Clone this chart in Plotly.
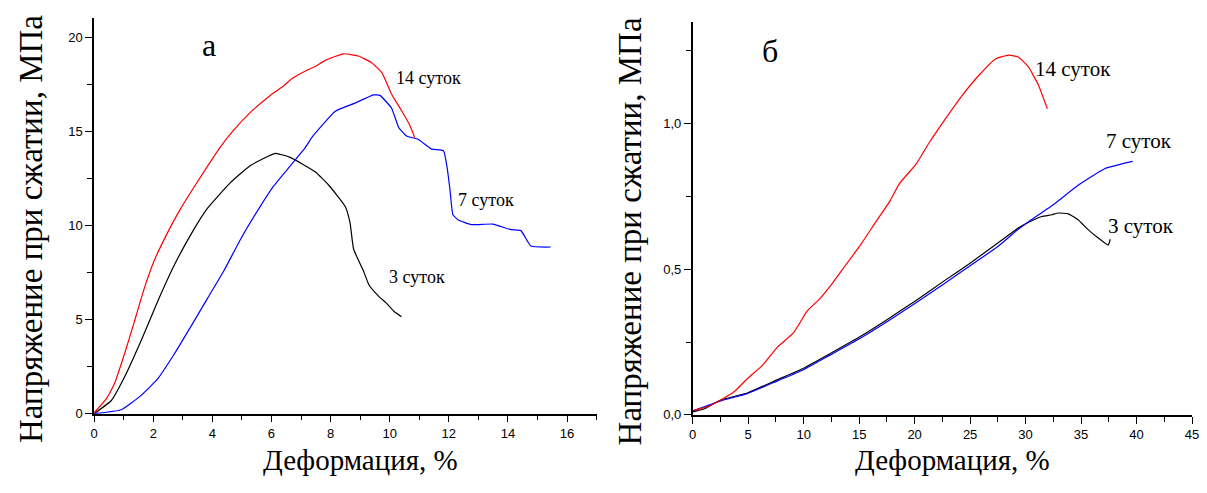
import plotly.graph_objects as go

# ---------------- Panel а (left) ----------------
a_x14 = [0, 0.41, 0.68, 1.02, 1.36, 1.69, 2.03, 2.48, 2.93, 3.49, 4.22, 4.69, 5.32, 5.96, 6.37, 6.7, 7.15, 7.5, 7.82, 8.44, 8.94, 9.39, 9.73, 10.06, 10.4, 10.68, 10.85]
a_y14 = [0.05, 0.79, 1.57, 3.14, 4.89, 6.63, 8.12, 9.6, 10.9, 12.3, 14.05, 15.0, 16.05, 16.9, 17.36, 17.8, 18.2, 18.45, 18.76, 19.11, 18.99, 18.64, 18.12, 16.98, 16.1, 15.32, 14.66]

a_x7 = [0, 0.92, 1.58, 2.14, 2.7, 3.27, 3.83, 4.39, 4.95, 5.51, 6.07, 6.63, 7.13, 7.38, 8.16, 8.83, 9.45, 9.67, 10.06, 10.31, 10.57, 10.96, 11.42, 11.82, 11.95, 12.04, 12.14, 12.31, 12.76, 13.49, 14.11, 14.44, 14.78, 15.45]
a_y7 = [0, 0.21, 0.96, 1.83, 3.14, 4.62, 6.11, 7.59, 9.25, 10.73, 12.08, 13.15, 14.1, 14.7, 16.06, 16.49, 16.93, 16.9, 16.23, 15.18, 14.75, 14.57, 14.05, 13.96, 13.0, 11.9, 10.56, 10.3, 10.04, 10.07, 9.77, 9.72, 8.9, 8.85]

a_x3 = [0, 0.58, 1.02, 1.58, 2.14, 2.7, 3.27, 3.83, 4.61, 5.29, 6.13, 6.63, 7.04, 7.49, 7.94, 8.5, 8.66, 8.78, 9.12, 9.3, 9.63, 9.88, 10.14, 10.4]
a_y3 = [0, 0.7, 1.92, 3.84, 5.93, 7.85, 9.51, 10.9, 12.27, 13.18, 13.82, 13.61, 13.26, 12.83, 12.13, 10.99, 10.12, 8.73, 7.55, 6.83, 6.23, 5.88, 5.44, 5.15]

# ---------------- Panel б (right) ----------------
b_x14 = [0, 1.34, 2.53, 3.73, 4.92, 6.26, 7.6, 9.1, 10.29, 11.48, 12.67, 13.86, 15.06, 16.55, 17.74, 18.63, 20.13, 21.32, 22.82, 24.31, 25.8, 27.28, 28.48, 29.37, 30.27, 31.16, 31.96]
b_y14 = [0.015, 0.028, 0.051, 0.079, 0.124, 0.169, 0.231, 0.282, 0.355, 0.4, 0.456, 0.518, 0.58, 0.665, 0.732, 0.794, 0.861, 0.935, 1.019, 1.098, 1.166, 1.222, 1.235, 1.228, 1.194, 1.132, 1.051]

b_x7 = [0, 2.53, 4.92, 7.6, 9.99, 12.37, 15.06, 17.44, 20.13, 22.66, 25.04, 27.5, 29.37, 30.27, 32.65, 34.73, 37.12, 39.65]
b_y7 = [0.013, 0.048, 0.073, 0.116, 0.155, 0.205, 0.262, 0.318, 0.385, 0.45, 0.513, 0.578, 0.638, 0.663, 0.726, 0.788, 0.845, 0.87]

b_x3 = [0, 1.0, 2.53, 4.92, 7.6, 9.99, 12.37, 15.06, 17.44, 20.13, 22.66, 24.9, 27.5, 29.37, 30.27, 31.46, 32.35, 32.95, 33.84, 34.73, 35.63, 36.52, 37.44, 37.63]
b_y3 = [0.01, 0.02, 0.051, 0.075, 0.12, 0.16, 0.21, 0.268, 0.325, 0.393, 0.46, 0.518, 0.59, 0.642, 0.661, 0.681, 0.687, 0.693, 0.69, 0.67, 0.636, 0.608, 0.583, 0.603]

a_labels = ["14 суток", "7 суток", "3 суток"]
a_lab_x = [11.3, 13.26, 10.94]
a_lab_y = [17.84, 11.37, 7.25]
b_labels = ["14 суток", "7 суток", "3 суток"]
b_lab_x = [34.26, 40.25, 40.4]
b_lab_y = [1.188, 0.94, 0.648]

x_title = "Деформация, %"
y_title = "Напряжение при сжатии, МПа"

SERIF = "Liberation Serif, Times New Roman, serif"
SANS = "Liberation Sans, Arial, sans-serif"
RED, BLUE, BLACK = "#ff0000", "#0000ff", "#000000"

fig = go.Figure()
for xs, ys, c in [(a_x3, a_y3, BLACK), (a_x7, a_y7, BLUE), (a_x14, a_y14, RED)]:
    fig.add_trace(go.Scatter(x=xs, y=ys, mode="lines", line=dict(color=c, width=1.2, shape="spline", smoothing=0.4),
                             xaxis="x", yaxis="y", showlegend=False, hoverinfo="skip"))
for xs, ys, c in [(b_x3, b_y3, BLACK), (b_x7, b_y7, BLUE), (b_x14, b_y14, RED)]:
    fig.add_trace(go.Scatter(x=xs, y=ys, mode="lines", line=dict(color=c, width=1.2, shape="spline", smoothing=0.4),
                             xaxis="x2", yaxis="y2", showlegend=False, hoverinfo="skip"))

H = 493
W = 1207


def px_x(sx):
    return sx / W


def px_y(sy):
    return (H - sy) / H


axis_common = dict(showgrid=False, zeroline=False, showline=True, linecolor="black", linewidth=1.5,
                   ticks="outside", ticklen=7, tickwidth=1.3, tickcolor="black",
                   tickfont=dict(family=SANS, size=13, color="black"))
minor_common = dict(ticks="outside", ticklen=5, tickcolor="black", tickwidth=1.2)

fig.update_layout(
    width=W, height=H,
    margin=dict(l=0, r=0, t=0, b=0),
    paper_bgcolor="white", plot_bgcolor="white",
    separators=", ",
    xaxis=dict(axis_common, domain=[px_x(91), px_x(598)], range=[0, 17], dtick=2, tick0=0,
               anchor="y", minor=dict(minor_common, dtick=1)),
    yaxis=dict(axis_common, domain=[px_y(420.5), px_y(18.5)], range=[0, 21], dtick=5, tick0=0,
               anchor="x", minor=dict(minor_common, dtick=2.5)),
    xaxis2=dict(axis_common, domain=[px_x(695), px_x(1199)], range=[0, 45], dtick=5, tick0=0,
                anchor="y2", minor=dict(minor_common, dtick=2.5)),
    yaxis2=dict(axis_common, domain=[px_y(421.7), px_y(22)], range=[0, 1.35], dtick=0.5, tick0=0,
                tickformat=".1f", anchor="x2", minor=dict(minor_common, dtick=0.25)),
)

ann = []
for t, x, y in zip(a_labels, a_lab_x, a_lab_y):
    ann.append(dict(text=t, x=x, y=y, xref="x", yref="y", showarrow=False,
                    font=dict(family=SERIF, size=18, color="black")))
for t, x, y in zip(b_labels, b_lab_x, b_lab_y):
    ann.append(dict(text=t, x=x, y=y, xref="x2", yref="y2", showarrow=False,
                    font=dict(family=SERIF, size=21, color="black")))
ann.append(dict(text="а", x=3.89, y=19.6, xref="x", yref="y", showarrow=False,
                font=dict(family=SERIF, size=32, color="black")))
ann.append(dict(text="б", x=6.98, y=1.249, xref="x2", yref="y2", showarrow=False,
                font=dict(family=SERIF, size=32, color="black")))
# axis titles
ann.append(dict(text=x_title, x=px_x(360), y=px_y(468), xref="paper", yref="paper", showarrow=False,
                xanchor="center", yanchor="middle", font=dict(family=SERIF, size=29, color="black")))
ann.append(dict(text=x_title, x=px_x(957), y=px_y(468), xref="paper", yref="paper", showarrow=False,
                xanchor="center", yanchor="middle", font=dict(family=SERIF, size=29, color="black")))
ann.append(dict(text=y_title, x=px_x(27), y=px_y(233), xref="paper", yref="paper", showarrow=False,
                textangle=-90, xanchor="center", yanchor="middle",
                font=dict(family=SERIF, size=33, color="black")))
ann.append(dict(text=y_title, x=px_x(632), y=px_y(235), xref="paper", yref="paper", showarrow=False,
                textangle=-90, xanchor="center", yanchor="middle",
                font=dict(family=SERIF, size=33, color="black")))
fig.update_layout(annotations=ann)

fig.write_html("out.html",
               config={"displayModeBar": False},
               post_script="document.body.style.margin='0px';document.body.style.padding='0px';"
                           "document.documentElement.style.overflow='hidden';")
